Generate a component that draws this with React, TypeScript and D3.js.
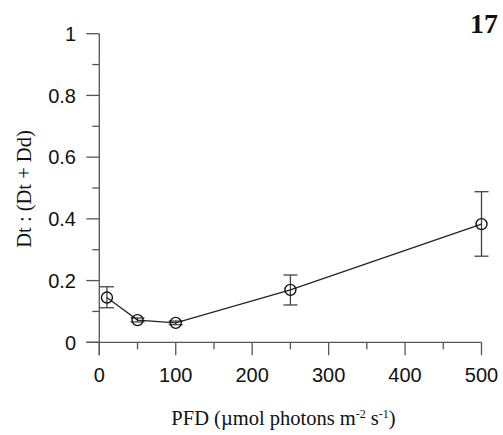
import React from "react";
import * as d3 from "d3";

const pfd = [10, 50, 100, 250, 500];
const ratio = [0.145, 0.072, 0.063, 0.17, 0.383];
const errLow = [0.112, 0.066, 0.057, 0.121, 0.279];
const errHigh = [0.18, 0.079, 0.069, 0.218, 0.488];
const xTicks = [0, 100, 200, 300, 400, 500];
const xMinor = [50, 150, 250, 350, 450];
const yTicks = [0, 0.2, 0.4, 0.6, 0.8, 1];
const yMinor = [0.1, 0.3, 0.5, 0.7, 0.9];

export default function App() {
  const W = 503, H = 435;
  const x = d3.scaleLinear().domain([0, 500]).range([99.3, 481.5]);
  const y = d3.scaleLinear().domain([0, 1]).range([342.3, 33.7]);
  const line = d3.line<number>().x((_, i) => x(pfd[i])).y((d) => y(d));
  const axisColor = "#555";
  const sans = "Arial, 'Liberation Sans', sans-serif";
  const serif = "'Times New Roman', 'Liberation Serif', serif";
  return (
    <svg width={W} height={H} style={{ position: "absolute", left: 0, top: 0, background: "#fff" }}>
      {/* axes */}
      <line x1={x(0)} x2={x(0)} y1={y(1)} y2={y(0) + 13} stroke={axisColor} strokeWidth={1.3} />
      <line x1={x(0) - 13} x2={x(500)} y1={y(0)} y2={y(0)} stroke={axisColor} strokeWidth={1.3} />
      {yTicks.map((t) => (
        <g key={"y" + t}>
          <line x1={x(0) - 13} x2={x(0)} y1={y(t)} y2={y(t)} stroke={axisColor} strokeWidth={1.3} />
          <text x={76} y={y(t)} dy="0.36em" textAnchor="end" fontFamily={sans} fontSize={20} fill="#111">
            {String(t)}
          </text>
        </g>
      ))}
      {yMinor.map((t) => (
        <line key={"ym" + t} x1={x(0) - 7} x2={x(0)} y1={y(t)} y2={y(t)} stroke={axisColor} strokeWidth={1.3} />
      ))}
      {xTicks.map((t) => (
        <g key={"x" + t}>
          <line x1={x(t)} x2={x(t)} y1={y(0)} y2={y(0) + 13} stroke={axisColor} strokeWidth={1.3} />
          <text x={x(t)} y={382} textAnchor="middle" fontFamily={sans} fontSize={20} fill="#111">
            {String(t)}
          </text>
        </g>
      ))}
      {xMinor.map((t) => (
        <line key={"xm" + t} x1={x(t)} x2={x(t)} y1={y(0)} y2={y(0) + 7} stroke={axisColor} strokeWidth={1.3} />
      ))}
      {/* error bars */}
      {pfd.map((p, i) => (
        <g key={"e" + i} stroke="#444" strokeWidth={1.3}>
          <line x1={x(p)} x2={x(p)} y1={y(errLow[i])} y2={y(errHigh[i])} />
          <line x1={x(p) - 7} x2={x(p) + 7} y1={y(errLow[i])} y2={y(errLow[i])} />
          <line x1={x(p) - 7} x2={x(p) + 7} y1={y(errHigh[i])} y2={y(errHigh[i])} />
        </g>
      ))}
      <path d={line(ratio) || ""} fill="none" stroke="#222" strokeWidth={1.2} />
      {pfd.map((p, i) => (
        <circle key={"c" + i} cx={x(p)} cy={y(ratio[i])} r={5.5} fill="none" stroke="#111" strokeWidth={1.4} />
      ))}
      {/* titles */}
      <text x={283.5} y={425} textAnchor="middle" fontFamily={serif} fontSize={20.5} fill="#111">
        PFD (µmol photons m<tspan dy={-7} fontSize={12}>-2</tspan>
        <tspan dy={7}> s</tspan>
        <tspan dy={-7} fontSize={12}>-1</tspan>
        <tspan dy={7}>)</tspan>
      </text>
      <text
        transform={`translate(31,189) rotate(-90)`}
        textAnchor="middle"
        fontFamily={serif}
        fontSize={20.5}
        fill="#111"
      >
        Dt : (Dt + Dd)
      </text>
      <text x={498} y={33} textAnchor="end" fontFamily={serif} fontWeight="bold" fontSize={28} fill="#111">
        17
      </text>
    </svg>
  );
}
